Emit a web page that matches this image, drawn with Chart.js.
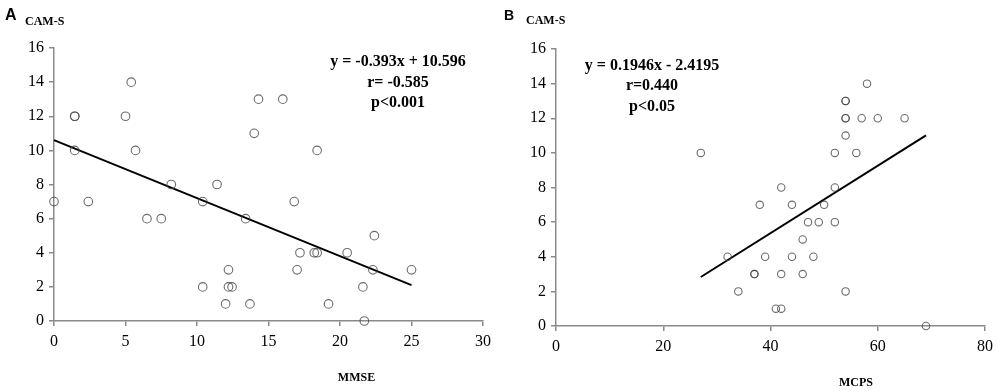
<!DOCTYPE html>
<html>
<head>
<meta charset="utf-8">
<script src="https://cdn.jsdelivr.net/npm/chart.js@4.4.1/dist/chart.umd.min.js"></script>
<style>
  html, body { margin: 0; padding: 0; background: #fff; }
  body { width: 1000px; height: 391px; position: relative; overflow: hidden; }
  canvas { position: absolute; top: 0; }
  .lbl { position: absolute; color: #000; white-space: nowrap; }
  .panel { font: bold 16px "Liberation Sans", Arial, sans-serif; line-height: 16px; }
  .ytitle, .xtitle { font: bold 12px "Liberation Serif", "Times New Roman", serif; line-height: 12px; }
  .xtitle { width: 100px; text-align: center; }
  .eq { font: bold 16px "Liberation Serif", "Times New Roman", serif; line-height: 20.5px;
        width: 220px; text-align: center; }
</style>
</head>
<body>
<canvas id="chartA" width="500" height="391" style="left:0"></canvas>
<canvas id="chartB" width="500" height="391" style="left:500px"></canvas>

<div class="lbl panel" style="left:5px; top:6.5px">A</div>
<div class="lbl ytitle" style="left:25px; top:15px">CAM-S</div>
<div class="lbl eq" style="left:288px; top:51px">y = -0.393x + 10.596<br>r= -0.585<br>p&lt;0.001</div>
<div class="lbl xtitle" style="left:306.5px; top:371px">MMSE</div>

<div class="lbl panel" style="left:504px; top:7.5px; font-size:14px; line-height:14px">B</div>
<div class="lbl ytitle" style="left:526px; top:14px">CAM-S</div>
<div class="lbl eq" style="left:542px; top:54.5px">y = 0.1946x - 2.4195<br>r=0.440<br>p&lt;0.05</div>
<div class="lbl xtitle" style="left:806px; top:375.7px">MCPS</div>

<script>
// ─── Data: panel A (MMSE vs CAM-S) ──────────────────────────────────────────
const MMSE   = [0, 1.45, 1.45, 1.45, 2.4, 5.0, 5.4, 5.7, 6.5, 7.5, 8.2, 10.4, 10.4, 11.4,
                12.0, 12.2, 12.2, 12.45, 13.4, 13.7, 14.0, 14.3, 16.0, 16.8, 17.0, 17.2,
                18.2, 18.4, 18.4, 19.2, 20.5, 21.6, 21.7, 22.3, 22.4, 25.0];
const CAMS_A = [7, 12, 12, 10, 7, 12, 14, 10, 6, 6, 8, 7, 2, 8,
                1, 3, 2, 2, 6, 1, 11, 13, 13, 7, 3, 4,
                4, 4, 10, 1, 4, 2, 0, 3, 5, 3];
const FIT_A_X = [0, 25];
const FIT_A_Y = [10.6, 2.1];

// ─── Data: panel B (MCPS vs CAM-S) ──────────────────────────────────────────
const MCPS   = [27, 32, 34, 37, 37, 38, 39, 41, 42, 42, 42, 44, 44, 46, 46, 47, 48, 49,
                50, 52, 52, 52, 54, 54, 54, 54, 54, 54, 56, 57, 58, 60, 65, 69];
const CAMS_B = [10, 4, 2, 3, 3, 7, 4, 1, 1, 3, 8, 7, 4, 5, 3, 6, 4, 6,
                7, 6, 8, 10, 2, 11, 12, 12, 13, 13, 10, 12, 14, 12, 12, 0];
const FIT_B_X = [27, 69];
const FIT_B_Y = [2.83, 11.01];

// ─── Axes ───────────────────────────────────────────────────────────────────
const Y_MAX = 16, Y_STEP = 2;
const XA_MAX = 30, XA_STEP = 5;
const XB_MAX = 80, XB_STEP = 20;

const AXIS_GREY = "#8a8a8a";
const TICK_FONT = { family: "'Liberation Serif', 'Times New Roman', serif", size: 16 };

function pts(xs, ys) { return xs.map((x, i) => ({ x, y: ys[i] })); }

function axis(max, step, fitSize, isX) {
    return {
        type: "linear",
        min: 0, max,
        ticks: { stepSize: step, color: "#000", font: TICK_FONT, padding: isX ? 6 : 5 },
        grid: { drawOnChartArea: false, drawTicks: true, tickLength: 5, color: AXIS_GREY, lineWidth: 1.5 },
        border: { display: true, color: AXIS_GREY, width: 1.5 },
        afterFit(s) { if (isX) s.height = fitSize; else s.width = fitSize; }
    };
}

function buildChart(id, xs, ys, fitX, fitY, o) {
    new Chart(document.getElementById(id), {
        type: "scatter",
        data: {
            datasets: [
                {
                    data: pts(fitX, fitY),
                    showLine: true,
                    borderColor: "#000",
                    borderWidth: 2,
                    pointRadius: 0,
                    clip: false,
                    order: 2
                },
                {
                    data: pts(xs, ys),
                    pointRadius: o.r,
                    borderWidth: 1.1,
                    borderColor: "rgba(70,70,70,0.8)",
                    backgroundColor: "rgba(255,255,255,0)",
                    clip: false,
                    order: 1
                }
            ]
        },
        options: {
            responsive: false,
            animation: false,
            layout: { padding: o.pad },
            scales: {
                x: axis(o.xMax, o.xStep, o.xH, true),
                y: axis(Y_MAX, Y_STEP, o.yW, false)
            },
            plugins: { legend: { display: false }, tooltip: { enabled: false } }
        }
    });
}

buildChart("chartA", MMSE, CAMS_A, FIT_A_X, FIT_A_Y,
    { xMax: XA_MAX, xStep: XA_STEP, r: 4.3, yW: 54, xH: 70, pad: { left: 0, right: 17, top: 48, bottom: 0 } });
buildChart("chartB", MCPS, CAMS_B, FIT_B_X, FIT_B_Y,
    { xMax: XB_MAX, xStep: XB_STEP, r: 3.7, yW: 56, xH: 65, pad: { left: 0, right: 15, top: 49, bottom: 0 } });
</script>
</body>
</html>
